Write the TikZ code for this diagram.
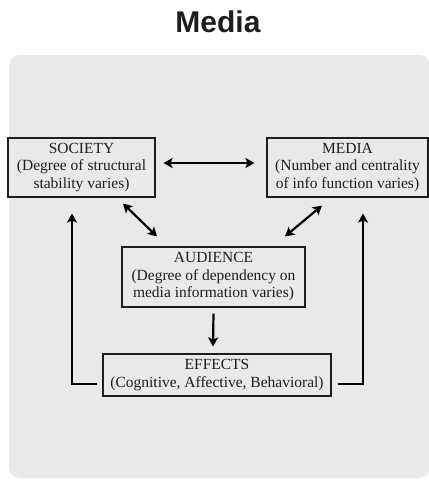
\documentclass[tikz,border=0pt]{standalone}
\usepackage{fontspec}
\setmainfont{Liberation Serif}
\newfontfamily\titlefont{Liberation Sans}
\usetikzlibrary{arrows.meta}
\definecolor{panelgray}{RGB}{234,232,233}
\definecolor{inkc}{RGB}{30,30,30}
\begin{document}
\begin{tikzpicture}[x=1pt,y=-1pt,
  box/.style={draw=inkc,line width=1.1pt,align=center,inner sep=0pt,
    font=\fontsize{15.5}{17.5}\selectfont,text=inkc,
    execute at begin node={\rule{0pt}{16.5pt}}},
  conn/.style={draw=black,line width=2.2pt,-{Stealth[length=9pt,width=10pt,inset=2pt]}},
  dconn/.style={draw=black,line width=2.2pt,{Stealth[length=9pt,width=10pt,inset=2pt]}-{Stealth[length=9pt,width=10pt,inset=2pt]}}]
\useasboundingbox (0,0) rectangle (429,480);
\fill[white] (0,0) rectangle (429,480);
% background panel
\fill[panelgray,rounded corners=11pt] (9,55) rectangle (430,478);
% title
\node[font=\titlefont\bfseries\fontsize{30}{34}\selectfont,text=inkc] (title) at (218,22) {Media};
% boxes
\node[box,minimum width=147pt,minimum height=59pt] (soc) at (81.5,167.5)
  {SOCIETY\\(Degree of structural\\stability varies)};
\node[box,minimum width=161pt,minimum height=59pt] (med) at (347.5,167.5)
  {MEDIA\\(Number and centrality\\of info function varies)};
\node[box,minimum width=183pt,minimum height=60pt] (aud) at (213.5,277)
  {AUDIENCE\\(Degree of dependency on\\media information varies)};
\node[box,minimum width=228pt,minimum height=42pt] (eff) at (217,375)
  {EFFECTS\\(Cognitive, Affective, Behavioral)};
% connectors
\draw[dconn] ([xshift=8pt,yshift=4.5pt]soc.east) -- ([xshift=-12pt,yshift=4.5pt]med.west);
\draw[dconn] ([xshift=41.5pt,yshift=-6pt]soc.south) -- ([xshift=-56.5pt,yshift=10pt]aud.north);
\draw[dconn] ([xshift=-25.5pt,yshift=-8pt]med.south) -- ([xshift=71.5pt,yshift=10pt]aud.north);
\draw[conn] ([yshift=-6pt]aud.south) -- ([xshift=-4pt,yshift=7pt]eff.north);
\draw[conn] ([xshift=-5pt,yshift=-9pt]eff.west) -| ([xshift=-9.5pt,yshift=-16pt]soc.south);
\draw[conn] ([xshift=6pt,yshift=-9pt]eff.east) -| ([xshift=15.5pt,yshift=-16pt]med.south);
\end{tikzpicture}
\end{document}
